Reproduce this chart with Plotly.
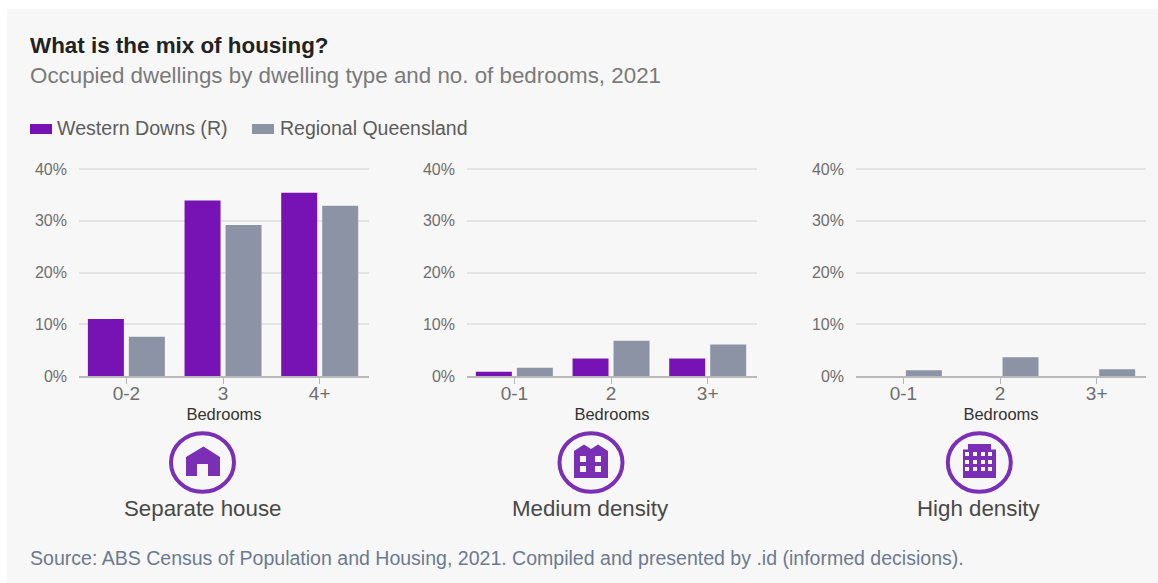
import plotly.graph_objects as go

W, H = 1158, 583
FONT = "Liberation Sans"
PURPLE, GREY = "#7713b5", "#8b93a5"
ICON = "#7b2fb5"

series_names = ["Western Downs (R)", "Regional Queensland"]
panel_titles = ["Separate house", "Medium density", "High density"]
cats_house = ["0-2", "3", "4+"]
cats_other = ["0-1", "2", "3+"]
house_local = [11.0, 33.9, 35.4]
house_region = [7.6, 29.2, 32.9]
medium_local = [0.8, 3.4, 3.4]
medium_region = [1.6, 6.8, 6.1]
high_local = [0.0, 0.0, 0.0]
high_region = [1.1, 3.6, 1.3]
y_ticks = [0, 10, 20, 30, 40]
y_labels = ["0%", "10%", "20%", "30%", "40%"]

panels = [(cats_house, house_local, house_region, 79, 369),
          (cats_other, medium_local, medium_region, 467, 757),
          (cats_other, high_local, high_region, 856, 1146)]
TOP, BOT = 168, 376
Y_MAX = 40.2

px = lambda x: x / W
py = lambda y: 1 - y / H

fig = go.Figure()
layout = dict(
    width=W, height=H, autosize=False, margin=dict(l=0, r=0, t=0, b=0, autoexpand=False),
    paper_bgcolor="#ffffff", plot_bgcolor="rgba(0,0,0,0)", showlegend=False,
    barmode="group", bargap=0.152, bargroupgap=0.122,
    font=dict(family=FONT, color="#666666"),
)
for i, (cats, a, b, x0, x1) in enumerate(panels):
    s = "" if i == 0 else str(i + 1)
    fig.add_bar(x=cats, y=a, name=series_names[0], marker=dict(color=PURPLE, line_width=0), xaxis="x" + s, yaxis="y" + s)
    fig.add_bar(x=cats, y=b, name=series_names[1], marker=dict(color=GREY, line_width=0), xaxis="x" + s, yaxis="y" + s)
    layout["xaxis" + s] = dict(
        domain=[px(x0), px(x1)], anchor="y" + s, type="category", showgrid=False, automargin=False,
        range=[-0.49, 2.51],
        showline=True, linecolor="#b8b8b8", linewidth=2, ticks="outside", ticklen=6, tickcolor="#b8b8b8", tickwidth=1,
        ticklabelstandoff=-7,
        tickfont=dict(size=19, color="#6e6e6e", family=FONT),
        title=dict(text="Bedrooms", font=dict(size=16.5, color="#333333", family=FONT), standoff=6),
    )
    layout["yaxis" + s] = dict(
        domain=[py(BOT), py(TOP)], anchor="x" + s, range=[0, Y_MAX], tickvals=y_ticks, ticktext=y_labels, automargin=False,
        showgrid=True, gridcolor="#e3e3e3", gridwidth=2, zeroline=False, showline=False, ticks="",
        ticklabelstandoff=11, tickfont=dict(size=16, color="#6e6e6e", family=FONT),
    )

shapes = [dict(type="rect", xref="paper", yref="paper", layer="below", x0=px(7), x1=px(1158), y0=py(583), y1=py(9),
               fillcolor="#f7f7f7", line_width=0)]

def poly(points_list, fill=ICON):
    d = ""
    for pts in points_list:
        d += "M" + " L".join(f"{px(x):.5f},{py(y):.5f}" for x, y in pts) + " Z "
    shapes.append(dict(type="path", xref="paper", yref="paper", path=d, fillcolor=fill, fillrule="evenodd", line_width=0))

def rect(x0, y0, x1, y1):
    return [(x0, y0), (x1, y0), (x1, y1), (x0, y1)]

for cx in (202.5, 591, 979.3):
    shapes.append(dict(type="circle", xref="paper", yref="paper", x0=px(cx - 31.5), x1=px(cx + 31.5), y0=py(462.5 + 29.3), y1=py(462.5 - 29.3),
                       fillcolor="rgba(0,0,0,0)", line=dict(color=ICON, width=4)))

# separate house
poly([[(186, 457), (203.5, 446.5), (220, 457), (220, 476), (208, 476), (208, 464), (197, 464), (197, 476), (186, 476)]])
# medium density
m = [(574, 451), (584, 444.5), (591, 449), (598, 444.5), (608, 451), (608, 478), (574, 478)]
wins = [rect(x, y, x + 6, y + 6) for x in (580, 595) for y in (456, 466)]
poly([m] + wins)
# high density
h = [(963, 449.5), (968, 449.5), (968, 444), (991, 444), (991, 449.5), (996, 449.5), (996, 478), (963, 478)]
wins = [rect(x, y, x + 4, y + 4) for x in (965, 973, 981, 988) for y in (452, 460, 467)]
poly([h] + wins)

# legend keys
shapes.append(dict(type="rect", xref="paper", yref="paper", x0=px(30), x1=px(52), y0=py(134), y1=py(124), fillcolor=PURPLE, line_width=0))
shapes.append(dict(type="rect", xref="paper", yref="paper", x0=px(252), x1=px(274), y0=py(134), y1=py(124), fillcolor=GREY, line_width=0))

def text(x, y, s, size, color, anchor="left", bold=False):
    return dict(xref="paper", yref="paper", x=px(x), y=py(y), text=f"<b>{s}</b>" if bold else s, showarrow=False,
                xanchor=anchor, yanchor="middle", font=dict(size=size, color=color, family=FONT), borderpad=0)

annotations = [
    text(29, 45, "What is the mix of housing?", 22.4, "#222222", bold=True),
    text(29, 75, "Occupied dwellings by dwelling type and no. of bedrooms, 2021", 22.35, "#7a7a7a"),
    text(56, 128, series_names[0], 19.6, "#5c5c5c"),
    text(279, 128, series_names[1], 19.5, "#5c5c5c"),
    text(29, 558, "Source: ABS Census of Population and Housing, 2021. Compiled and presented by .id (informed decisions).", 19.55, "#6b7a90"),
    text(202.5, 508, panel_titles[0], 22.3, "#484848", "center"),
    text(590.5, 508, panel_titles[1], 22.3, "#484848", "center"),
    text(979, 508, panel_titles[2], 22.3, "#484848", "center"),
]
layout["shapes"] = shapes
layout["annotations"] = annotations
fig.update_layout(**layout)
fig.write_html("out.html", config=dict(displayModeBar=False), post_script="document.body.style.margin='0';")
